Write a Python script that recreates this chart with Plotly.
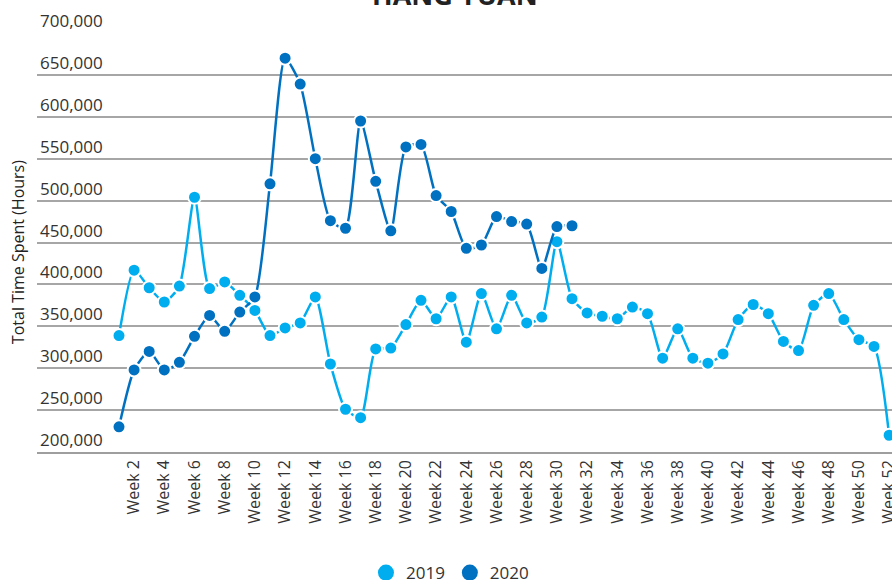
import plotly.graph_objects as go

weeks = [f"Week {i}" for i in range(1, 53)]
tick_weeks = [f"Week {i}" for i in range(2, 53, 2)]

hours_2019 = [339000, 417000, 396000, 379000, 398000, 504000, 395000, 403000, 387000, 369000,
              339000, 348000, 354000, 385000, 305000, 251000, 241000, 323000, 324000, 352000,
              381000, 359000, 385000, 331000, 389000, 347000, 387000, 354000, 361000, 451000,
              383000, 366000, 362000, 359000, 373000, 365000, 312000, 347000, 312000, 306000,
              317000, 358000, 376000, 365000, 332000, 321000, 375000, 389000, 358000, 334000,
              326000, 220000]
hours_2020 = [230000, 298000, 320000, 298000, 307000, 338000, 363000, 344000, 367000, 385000,
              520000, 670000, 639000, 550000, 476000, 467000, 595000, 523000, 464000, 564000,
              567000, 506000, 487000, 443000, 447000, 481000, 475000, 472000, 419000, 469000,
              470000]

series = [("2019", hours_2019, "#00adef"), ("2020", hours_2020, "#0070c0")]

fig = go.Figure()
for name, vals, col in series:
    fig.add_trace(go.Scatter(
        x=weeks[:len(vals)], y=vals, name=name, mode="lines+markers",
        line=dict(color=col, width=2.5, shape="spline", smoothing=0.6),
        marker=dict(color=col, size=13, line=dict(color="white", width=2)),
        showlegend=False, legendgroup=name, cliponaxis=False))
for name, vals, col in series:
    fig.add_trace(go.Scatter(
        x=[None], y=[None], name=name, mode="markers",
        marker=dict(color=col, size=20), legendgroup=name, showlegend=True))

fig.add_annotation(text="<b>HANG YUAN</b>", xref="paper", yref="paper",
                   x=0.489, y=1, xanchor="center", yanchor="bottom", yshift=18,
                   showarrow=False, font=dict(size=27, color="#222222"))
fig.add_annotation(text="Total Time Spent (Hours)", xref="paper", yref="paper",
                   x=0, y=0.477, xanchor="center", yanchor="middle", xshift=-19,
                   textangle=-90, showarrow=False,
                   font=dict(size=16, color="#222222"))

fig.update_layout(
    width=892, height=580,
    margin=dict(l=37, r=0, t=33, b=128, autoexpand=False),
    paper_bgcolor="white", plot_bgcolor="white",
    font=dict(family="Open Sans, sans-serif", color="#333333", size=16),
    legend=dict(orientation="h", x=0.483, xanchor="center", y=0.012, yref="container",
                yanchor="middle", font=dict(size=17, color="#333333"),
                itemsizing="trace", tracegroupgap=0),
    xaxis=dict(type="category", categoryorder="array", categoryarray=weeks,
               range=[-5.43, 51.19], tickmode="array", tickvals=tick_weeks,
               ticktext=tick_weeks, tickangle=-90, showgrid=False,
               showline=True, linecolor="#9e9e9e", linewidth=1.5,
               ticks="", ticklabeloverflow="allow",
               tickfont=dict(size=16, color="#333333")),
    yaxis=dict(range=[200000, 700000], tickvals=list(range(200000, 700001, 50000)),
               tickformat=",", ticklabelposition="inside top", ticklabeloverflow="allow",
               showgrid=True, gridcolor="#a6a6a6", gridwidth=1.5,
               zeroline=False, showline=False,
               tickfont=dict(size=17, color="#333333")),
)

fig.write_html("out.html", config={"displayModeBar": False},
               post_script="document.body.style.margin='0';")
